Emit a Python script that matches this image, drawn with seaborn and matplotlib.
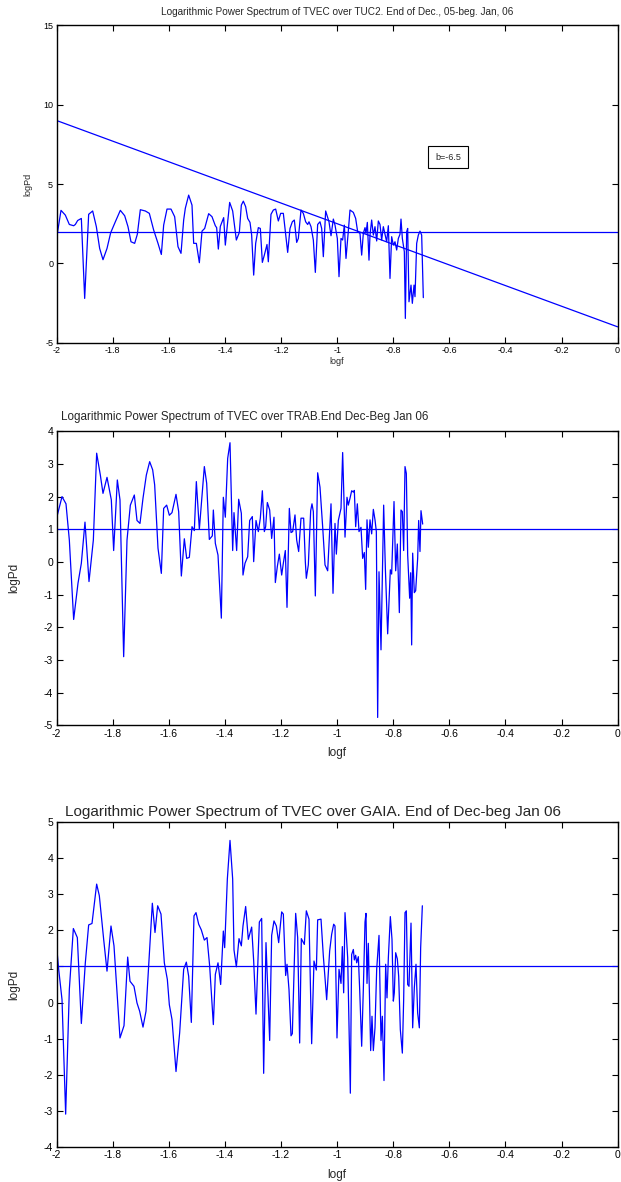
import numpy as np
import pandas as pd
import matplotlib
matplotlib.use("Agg")
import matplotlib.pyplot as plt
import seaborn as sns

sns.set_style("ticks")
plt.rcParams['font.family'] = ['Liberation Sans', 'DejaVu Sans']

# Horizontal positions below are read off the picture as pixel offsets (3x zoom units)
# and converted to logf through the axis calibration.
def zx_to_logf_a(z):
    return round((z - 13.8) / 841.5 - 2, 4)

def zx_to_logf_b(z):
    return round((z + 535.2) / 841.5 - 2, 4)

# ---------------- Panel 1: TUC2 ----------------
tuc2_zx_a = [13, 27, 40, 52, 65, 70, 77, 88, 98, 110, 122, 133, 143, 153, 165, 176, 190, 205, 218, 228,
             237, 248, 256, 265, 280, 292, 305, 318, 328, 335, 345, 357, 368, 378, 387, 395, 400, 410,
             420, 425, 433, 442, 450, 458, 470, 480, 490, 494, 499, 505, 515, 520, 533, 542, 553, 562, 568]
tuc2_logPd_a = [1.47, 3.34, 3.04, 2.45, 2.37, 2.45, 2.70, 2.83, -2.21, 3.09, 3.30, 2.31, 0.94, 0.23,
                0.94, 1.93, 2.62, 3.34, 3.00, 2.31, 1.36, 1.26, 1.83, 3.38, 3.30, 3.15, 2.10, 1.26,
                0.56, 2.41, 3.42, 3.42, 2.94, 1.05, 0.63, 2.73, 3.47, 4.30, 3.67, 1.26, 1.26, 0.04,
                2.03, 2.20, 3.13, 2.94, 2.37, 2.25, 0.90, 2.33, 2.88, 1.15, 3.84, 3.30, 1.47, 1.95, 3.67]
tuc2_zx_b = [25, 32, 38, 45, 50, 56, 62, 70, 76, 82, 88, 96, 100, 108, 115, 122, 130, 137, 145, 150,
             158, 165, 172, 178, 185, 190, 198, 205, 212, 218, 222, 228, 235, 241, 248, 255, 260, 265,
             272, 278, 282, 288, 295, 300, 307, 312, 318, 323, 328, 333, 336, 340, 345, 355, 362, 368,
             375, 380, 385, 390, 393, 397, 402, 405, 410, 415, 420, 425, 430, 435, 440, 445, 450, 455,
             460, 465, 470, 475, 480, 485, 490, 495, 498, 502, 508, 511, 515, 518, 522, 528, 532, 537,
             540, 545, 550, 555, 560, 565]
tuc2_logPd_b = [3.92, 3.57, 2.83, 2.58, 1.78, -0.74, 1.26, 2.25, 2.20, 0.06, 0.52, 1.19, 0.10, 3.09,
                3.36, 3.42, 2.67, 3.15, 3.15, 2.20, 0.69, 2.20, 2.62, 2.73, 1.32, 1.57, 3.36, 3.15,
                2.62, 2.45, 2.62, 2.31, 1.47, -0.57, 2.45, 2.62, 2.20, 0.42, 3.30, 2.88, 2.62, 1.74,
                2.79, 2.41, 1.57, -0.84, 1.57, 1.47, 2.41, 0.31, 1.05, 2.03, 3.36, 3.21, 2.83, 1.99,
                1.89, 0.52, 1.89, 2.25, 1.89, 2.58, 0.20, 1.78, 2.73, 1.78, 2.31, 1.41, 2.67, 2.45,
                1.47, 2.31, 1.83, 1.36, 2.37, -0.95, 1.68, 1.15, 1.36, 0.84, 1.57, 1.83, 2.79, 1.57,
                0.73, -3.47, 1.99, 2.20, -2.42, -1.37, -2.52, -1.37, -2.10, 1.26, 1.78, 2.03, 1.78, -2.16]
tuc2_logf = [zx_to_logf_a(z) for z in tuc2_zx_a] + [zx_to_logf_b(z) for z in tuc2_zx_b]
tuc2_logPd = tuc2_logPd_a + tuc2_logPd_b
tuc2_level = 2.0
fit_logf = [-2.0, 0.0]
fit_logPd = [9.0, -4.0]
fit_label = "b=-6.5"

# ---------------- Panel 2: TRAB ----------------
trab_zx_a = [13, 20, 30, 42, 52, 65, 78, 88, 99, 111, 124, 134, 145, 153, 165, 178, 185, 196, 204, 215,
             225, 235, 247, 255, 264, 273, 283, 293, 302, 308, 318, 328, 335, 344, 352, 360, 372, 380,
             388, 397, 404, 412, 420, 427, 433, 442, 457, 464, 472, 481, 484, 490, 498, 508, 514, 520,
             527, 534, 542, 546, 554, 560]
trab_logPd_a = [1.31, 1.59, 2.00, 1.78, 0.67, -1.76, -0.65, -0.04, 1.22, -0.60, 0.67, 3.33, 2.66, 2.10,
                2.59, 1.90, 0.35, 2.51, 1.90, -2.90, 0.67, 1.74, 2.05, 1.27, 1.18, 1.95, 2.66, 3.07,
                2.82, 2.36, 0.42, -0.35, 1.64, 1.74, 1.43, 1.51, 2.07, 1.54, -0.43, 0.71, 0.11, 0.14,
                1.08, 0.96, 2.46, 1.00, 2.92, 2.41, 0.69, 0.80, 1.59, 0.57, 0.21, -1.72, 1.98, 1.37,
                3.17, 3.65, 0.35, 1.51, 0.35, 1.92]
trab_zx_b = [19, 24, 30, 38, 44, 52, 56, 63, 70, 76, 82, 88, 92, 97, 104, 110, 117, 121, 127, 133, 140,
             145, 151, 156, 163, 168, 173, 180, 185, 191, 198, 206, 211, 214, 220, 227, 231, 235, 241,
             248, 255, 263, 270, 278, 288, 294, 300, 304, 310, 318, 323, 330, 336, 340, 345, 350, 355,
             358, 362, 367, 372, 378, 383, 388, 392, 396, 400, 405, 410, 415, 420, 424, 428, 432, 438,
             446, 451, 458, 466, 470, 477, 482, 487, 493, 498, 502, 506, 510, 514, 518, 524, 527, 530,
             533, 538, 542, 548, 551, 555, 558, 563]
trab_logPd_b = [1.49, -0.40, -0.04, 0.16, 1.27, 1.39, 0.01, 1.27, 0.93, 1.34, 2.18, 0.93, 1.08, 1.82,
                1.59, 0.72, 1.37, -0.63, -0.14, 0.24, -0.40, -0.04, 0.35, -1.39, 1.64, 0.90, 0.93,
                1.44, 0.67, 0.32, 1.34, 1.34, 0.01, -0.50, -0.09, 1.57, 1.78, 1.54, -1.04, 2.73, 2.29,
                1.08, -0.09, -0.27, 1.78, -0.96, 1.18, 0.24, 1.27, 1.64, 3.35, 0.76, 1.98, 1.74, 1.95,
                2.18, 2.14, 2.19, 1.08, 1.78, 0.93, 1.06, 0.11, 0.29, -0.84, 1.29, 0.45, 1.29, 0.86,
                1.61, 1.29, 0.93, -4.76, -0.30, -2.69, 1.74, -0.19, -2.20, -0.24, -0.37, 1.85, -0.27,
                0.55, -1.55, 1.59, 1.54, 0.35, 2.92, 2.71, 0.21, -1.11, -0.33, -2.54, 0.27, -0.94,
                -0.88, 0.11, 1.27, 0.32, 1.57, 1.16]
trab_logf = [zx_to_logf_a(z) for z in trab_zx_a] + [zx_to_logf_b(z) for z in trab_zx_b]
trab_logPd = trab_logPd_a + trab_logPd_b
trab_level = 1.0

# ---------------- Panel 3: GAIA ----------------
gaia_zx_a = [13, 20, 30, 41, 52, 64, 76, 88, 100, 110, 120, 134, 142, 155, 165, 177, 186, 204, 216, 227,
             234, 246, 255, 263, 273, 282, 290, 301, 309, 317, 327, 337, 346, 352, 360, 372, 383, 395,
             403, 410, 418, 426, 432, 440, 448, 457, 465, 473, 484, 490, 498, 506, 514, 518, 526, 534,
             542, 546, 553, 561]
gaia_logPd_a = [1.64, 0.92, 0.08, -3.09, 0.36, 2.05, 1.80, -0.58, 1.10, 2.15, 2.19, 3.28, 2.96, 1.75,
                0.87, 2.12, 1.57, -0.98, -0.64, 1.26, 0.59, 0.45, -0.01, -0.24, -0.68, -0.24, 1.01,
                2.75, 1.94, 2.68, 2.45, 1.10, 0.64, -0.06, -0.47, -1.91, -0.84, 0.92, 1.12, 0.73,
                -0.55, 2.40, 2.49, 2.17, 2.01, 1.73, 1.80, 1.01, -0.61, 0.78, 1.10, 0.50, 1.98, 1.52,
                3.42, 4.49, 3.42, 1.46, 0.99, 1.77]
gaia_zx_b = [19, 24, 32, 40, 50, 56, 63, 73, 80, 86, 93, 104, 110, 117, 124, 131, 140, 145, 152, 156,
             162, 168, 172, 182, 188, 194, 199, 208, 214, 222, 230, 237, 244, 248, 258, 265, 275, 284,
             290, 296, 300, 306, 312, 318, 322, 326, 330, 338, 346, 350, 355, 358, 362, 365, 370, 374,
             380, 385, 390, 393, 396, 400, 407, 411, 415, 420, 425, 432, 438, 442, 447, 452, 456, 460,
             466, 471, 475, 478, 482, 487, 491, 496, 502, 506, 510, 514, 518, 522, 528, 533, 538, 543,
             548, 553, 557, 562]
gaia_logPd_b = [1.57, 2.12, 2.66, 1.75, 2.09, 1.15, -0.32, 2.23, 2.33, -1.96, 1.66, -1.05, 1.86, 2.26,
                2.12, 1.66, 2.51, 2.45, 0.75, 1.06, 0.36, -0.92, -0.86, 2.47, 1.80, -1.12, 1.77, 1.61,
                2.54, 2.31, -1.14, 1.15, 0.90, 2.29, 2.31, 1.29, 0.08, 1.43, 1.89, 2.17, 2.12, -0.98,
                0.92, 0.53, 1.55, 0.27, 2.49, 1.24, -2.51, 1.33, 1.47, 1.18, 1.31, 1.10, 1.27, 0.36,
                -1.21, 0.36, 2.23, 2.47, 0.53, 1.64, -1.33, -0.38, -1.33, -0.70, 0.92, 1.86, -1.05,
                -0.38, -2.16, 1.06, 0.13, 1.24, 2.38, 1.75, 0.04, 0.27, 1.38, 1.21, 0.73, -0.75, -1.40,
                0.08, 2.49, 2.54, 0.50, 0.45, 2.20, -0.70, 0.41, 1.06, -0.29, -0.70, 1.52, 2.68]
gaia_logf = [zx_to_logf_a(z) for z in gaia_zx_a] + [zx_to_logf_b(z) for z in gaia_zx_b]
gaia_logPd = gaia_logPd_a + gaia_logPd_b
gaia_level = 1.0

titles = ["Logarithmic Power Spectrum of TVEC over TUC2. End of Dec., 05-beg. Jan, 06",
          "Logarithmic Power Spectrum of TVEC over TRAB.End Dec-Beg Jan 06",
          "Logarithmic Power Spectrum of TVEC over GAIA. End of Dec-beg Jan 06"]
xtick_vals = [-2, -1.8, -1.6, -1.4, -1.2, -1, -0.8, -0.6, -0.4, -0.2, 0]
xtick_labels = ["-2", "-1.8", "-1.6", "-1.4", "-1.2", "-1", "-0.8", "-0.6", "-0.4", "-0.2", "0"]

W, H = 621, 1182
fig = plt.figure(figsize=(W / 100, H / 100), dpi=100)

def make_ax(top_px, bottom_px):
    left = 56.6 / W
    width = (617.6 - 56.6) / W
    return fig.add_axes([left, 1 - bottom_px / H, width, (bottom_px - top_px) / H])

ax1 = make_ax(25.3, 342.7)
ax2 = make_ax(431.3, 725.3)
ax3 = make_ax(822.0, 1147.0)

blue = (0, 0, 1)
# (ax, x, y, level, ylim, yticks, tick fontsize, title fontsize, title x (axes frac), title ha, title y px)
panels = [
    (ax1, tuc2_logf, tuc2_logPd, tuc2_level, (-5, 15), [-5, 0, 5, 10, 15], 6.5, 7.2, 0.5, 'center', 12),
    (ax2, trab_logf, trab_logPd, trab_level, (-5, 4), list(range(-5, 5)), 7.5, 8.4, 0.008, 'left', 417),
    (ax3, gaia_logf, gaia_logPd, gaia_level, (-4, 5), list(range(-4, 6)), 7.5, 11.0, 0.457, 'center', 812),
]
for i, (ax, xs, ys, lvl, ylim, yt, tfs, titfs, tx, tha, ty) in enumerate(panels):
    df = pd.DataFrame({"logf": xs, "logPd": ys})
    sns.lineplot(data=df, x="logf", y="logPd", ax=ax, color=blue, lw=0.9,
                 estimator=None, sort=False)
    ax.axhline(lvl, color=blue, lw=0.9)
    ax.set_xlim(-2, 0)
    ax.set_ylim(*ylim)
    ax.set_xticks(xtick_vals)
    ax.set_xticklabels(xtick_labels)
    ax.set_yticks(yt)
    ax.set_yticklabels([str(v) for v in yt])
    ax.tick_params(direction='in', top=True, right=True, length=4, width=0.8,
                   labelsize=tfs, pad=2.5, colors='black')
    for s in ax.spines.values():
        s.set_linewidth(1.0)
        s.set_color('black')
    fig.text((56.6 + tx * 561) / W, 1 - ty / H, titles[i], fontsize=titfs,
             ha=tha, va='center')
    if i == 0:
        ax.set_xlabel("logf", fontsize=6.5, labelpad=0)
        ax.set_ylabel("logPd", fontsize=6.5, labelpad=8)
    else:
        ax.set_xlabel("logf", fontsize=8.5, labelpad=6)
        ax.set_ylabel("logPd", fontsize=8.5, labelpad=17)

fit_df = pd.DataFrame({"logf": fit_logf, "logPd": fit_logPd})
sns.lineplot(data=fit_df, x="logf", y="logPd", ax=ax1, color=blue, lw=0.9)
ax1.set_xlabel("logf", fontsize=6.5, labelpad=1)
ax1.set_ylabel("logPd", fontsize=6.5)
ax1.text(-0.605, 6.7, fit_label, fontsize=6.5, ha='center', va='center',
         bbox=dict(boxstyle='square,pad=0.75', fc='white', ec='black', lw=0.8))

fig.savefig("out.png", dpi=100)
